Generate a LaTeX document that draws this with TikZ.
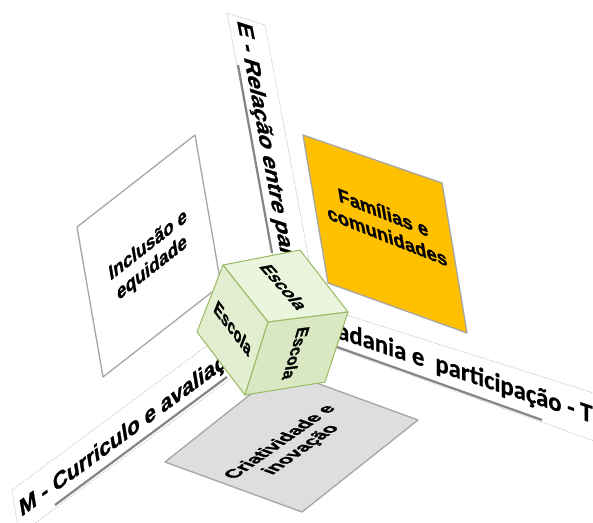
\documentclass[tikz,border=0pt]{standalone}
\usepackage{fontspec}
\setmainfont{Liberation Sans}[BoldFeatures={FakeBold=1.2}]
\newfontfamily\carlitofont{Carlito}[BoldFeatures={FakeBold=0.6}]
\definecolor{orangeF}{HTML}{FFC000}
\definecolor{panelgray}{HTML}{DEDEDE}
\definecolor{edgegray}{HTML}{A6A6A6}
\definecolor{cubetop}{HTML}{EBF4DC}
\definecolor{cubeleft}{HTML}{E2EECF}
\definecolor{cuberight}{HTML}{DAE7C3}
\definecolor{cubeedge}{HTML}{98BA62}
\definecolor{bandedge}{HTML}{BFBFBF}
\definecolor{shadowgray}{HTML}{858585}
% #1 name, #2 position, #3-#6 matrix (canvas coords), #7 node options, #8 text
\newcommand\skewlabel[8]{%
  \begin{scope}[shift={#2},cm={#3,#4,#5,#6,(0,0)}]
    \node[#7] (#1) at (0,0) {#8};
  \end{scope}}
\begin{document}
\begin{tikzpicture}[x=1pt,y=-1pt,
  band/.style={fill=white,draw=bandedge,line width=0.6pt,dash pattern=on 1.5pt off 1.2pt},
  bandshadow/.style={draw=shadowgray,line width=2.2pt},
  panel/.style={draw=edgegray,line width=1.3pt,line join=round},
  face/.style={draw=cubeedge,line width=1pt,line join=round},
  lbl/.style={transform shape,inner sep=0pt,align=center,font=\bfseries\fontsize{20}{23}\selectfont},
  bandlbl/.style={lbl,anchor=base west,font=\bfseries\fontsize{24}{26}\selectfont},
  cubelbl/.style={lbl,font=\bfseries\fontsize{18}{20}\selectfont}]
\useasboundingbox (0,0) rectangle (593,522);
\fill[white] (0,0) rectangle (593,522);
\clip (0,0) rectangle (593,522);

% ---- bands ----
\draw[band] (227,13) -- (265,25) -- (317.5,305) -- (282,305) -- cycle;
\draw[bandshadow] (238,65) -- (272,253);
\draw[band] (12,490) -- (250,314) -- (257,359) -- (19,535) -- cycle;
\draw[bandshadow] (55,505) -- (227,377);
\draw[band] (310,303.5) -- (600,395) -- (600,443) -- (300,335.5) -- cycle;
\draw[bandshadow] (337,347) -- (542,420);

\skewlabel{tE}{(237,20)}{0.1843}{-0.9828}{0.906}{-0.286}{bandlbl}{E - Relação entre par}
\skewlabel{tM}{(21,517)}{0.8066}{0.5912}{-0.1562}{0.9371}{bandlbl}{M - Curriculo e avaliaç}
\skewlabel{tT}{(337,338)}{0.949}{-0.316}{0}{1}{lbl,anchor=base west,font=\carlitofont\bfseries\fontsize{26}{28}\selectfont}{adania e~~participação - T}

% ---- panels ----
\filldraw[panel,fill=white] (195,135) -- (77,227) -- (103,377) -- (221,285) -- cycle;
\filldraw[panel,fill=orangeF] (303,135) -- (442,183) -- (467,333) -- (328,283) -- cycle;
\filldraw[panel,fill=panelgray] (281,370) -- (165,462) -- (302,512) -- (418,420) -- cycle;

\skewlabel{tInc}{(150,257)}{0.7888}{0.6150}{-0.1708}{0.9853}{lbl}{Inclusão e\\equidade}
\skewlabel{tFam}{(385,224)}{0.9291}{-0.3697}{-0.1666}{0.9860}{lbl,font=\bfseries\fontsize{20}{24}\selectfont}{Famílias e\\comunidades}
\skewlabel{tCri}{(291,446)}{0.8192}{0.5736}{-0.9395}{0.3429}{lbl,font=\bfseries\fontsize{19}{22}\selectfont}{Criatividade e\\inovação}

% ---- cube ----
\coordinate (cT) at (300,250);
\coordinate (cL1) at (223,265);
\coordinate (cL2) at (197,332);
\coordinate (cB) at (245,395);
\coordinate (cR2) at (325,382);
\coordinate (cR1) at (348,312);
\coordinate (cC) at (268,322);
\filldraw[face,fill=cubetop] (cT) -- (cL1) -- (cC) -- (cR1) -- cycle;
\filldraw[face,fill=cubeleft] (cL1) -- (cL2) -- (cB) -- (cC) -- cycle;
\filldraw[face,fill=cuberight] (cC) -- (cB) -- (cR2) -- (cR1) -- cycle;

\skewlabel{tTop}{(284,287)}{0.6606}{-0.7507}{0.9821}{0.1913}{cubelbl}{Escola}
\skewlabel{tLeft}{(233,328)}{0.606}{-0.795}{0.3617}{0.9320}{cubelbl}{Escola}
\skewlabel{tRight}{(296,353)}{-0.3006}{-0.9542}{0.9923}{0.124}{cubelbl,font=\bfseries\fontsize{17}{19}\selectfont}{Escola}
\end{tikzpicture}
\end{document}
